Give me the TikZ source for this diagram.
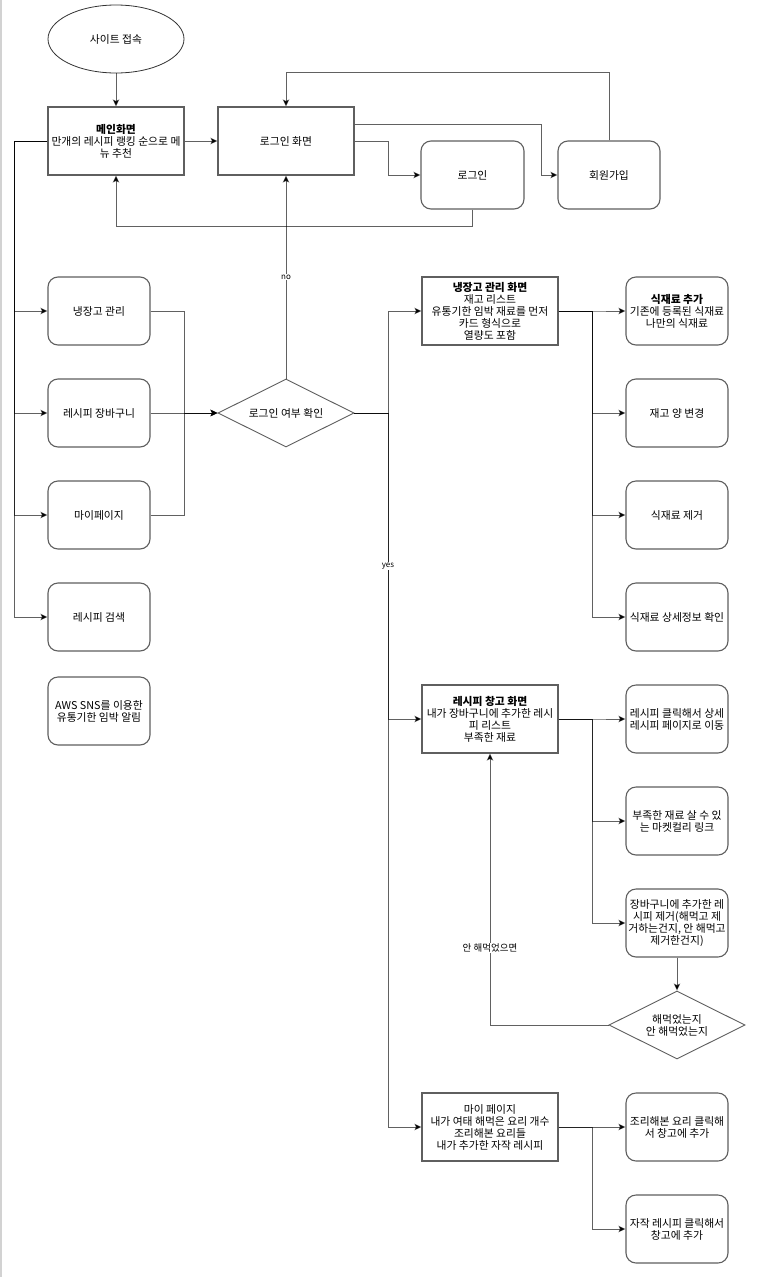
\documentclass[tikz,border=0pt]{standalone}
\usepackage{fontspec}
\setmainfont{Noto Sans CJK KR}
\usetikzlibrary{shapes.geometric,arrows.meta}
\definecolor{bordc}{RGB}{95,95,95}
\begin{document}
\begin{tikzpicture}[x=1pt,y=-1pt,
  box/.style={draw=bordc, line width=1.1pt, minimum width=136pt, minimum height=68pt, align=center, inner xsep=0pt, inner ysep=1pt, font=\fontsize{10.8}{12}\selectfont},
  rbox/.style={box, rounded corners=10pt, minimum width=102pt},
  dec/.style={diamond, shape aspect=2, draw=bordc, line width=0.9pt, minimum width=136pt, minimum height=68pt, inner sep=0pt, align=center, font=\fontsize{10.8}{12}\selectfont},
  edge/.style={draw=black, draw opacity=0.62, line width=1pt, -{Stealth[length=7pt,width=6.5pt,inset=1.5pt]}},
  lbl/.style={fill=white, inner sep=1pt, font=\fontsize{8}{9}\selectfont},
  klbl/.style={fill=white, inner sep=1pt, font=\fontsize{9.5}{11}\selectfont}]
\useasboundingbox (0,0) rectangle (759,1277);
\fill[white] (0,0) rectangle (759,1277);
\draw[gray!35, line width=1.5pt] (0.75,0) -- (0.75,1277);

% top row
\node[ellipse, draw=black!80, line width=0.8pt, minimum width=136pt, minimum height=68pt, inner sep=0pt, font=\fontsize{10.8}{12}\selectfont] (site) at (116,39) {사이트 접속};
\node[box] (main) at (116,141) {\textbf{메인화면}\\만개의 레시피 랭킹 순으로 메\\뉴 추천};
\node[box] (ls) at (286,141) {로그인 화면};
\node[rbox, minimum width=103pt] (login) at (472.5,175) {로그인};
\node[rbox] (signup) at (609,175) {회원가입};

% left column
\node[rbox] (fridge) at (99,311) {냉장고 관리};
\node[rbox] (cart) at (99,413) {레시피 장바구니};
\node[rbox] (mypage) at (99,515) {마이페이지};
\node[rbox] (search) at (99,617) {레시피 검색};
\node[rbox] (aws) at (99,711) {AWS SNS를 이용한\\유통기한 임박 알림};

% decision
\node[dec] (dia) at (286,413) {로그인 여부 확인};

% right main column
\node[box] (fs) at (490,311) {\textbf{냉장고 관리 화면}\\재고 리스트\\유통기한 임박 재료를 먼저\\카드 형식으로\\열량도 포함};
\node[box] (rs) at (490,719) {\textbf{레시피 창고 화면}\\내가 장바구니에 추가한 레시\\피 리스트\\부족한 재료};
\node[box] (ms) at (490,1127) {마이 페이지\\내가 여태 해먹은 요리 개수\\조리해본 요리들\\내가 추가한 자작 레시피};

% fridge children
\node[rbox] (f1) at (677,311) {\textbf{식재료 추가}\\기존에 등록된 식재료\\나만의 식재료};
\node[rbox] (f2) at (677,413) {재고 양 변경};
\node[rbox] (f3) at (677,515) {식재료 제거};
\node[rbox] (f4) at (677,617) {식재료 상세정보 확인};

% recipe children
\node[rbox] (r1) at (677,719) {레시피 클릭해서 상세\\레시피 페이지로 이동};
\node[rbox] (r2) at (677,821) {부족한 재료 살 수 있\\는 마켓컬리 링크};
\node[rbox] (r3) at (677,923) {장바구니에 추가한 레\\시피 제거(해먹고 제\\거하는건지, 안 해먹고\\제거한건지)};
\node[dec] (dia2) at (677,1025) {해먹었는지\\안 해먹었는지};

% mypage children
\node[rbox] (m1) at (677,1127) {조리해본 요리 클릭해\\서 창고에 추가};
\node[rbox] (m2) at (677,1229) {자작 레시피 클릭해서\\창고에 추가};

\coordinate (lt) at (14,141);
\coordinate (rt) at (388,413);

% top edges
\draw[edge] (site) -- (main);
\draw[edge] (main) -- (ls);
\draw[edge] (ls.east) -- ++(34,0) |- (login.west);
\draw[edge] ([yshift=17pt]ls.east) -- ++(187,0) |- (signup.west);
\draw[edge] (signup.north) -- ++(0,-68) -| (ls.north);
\draw[edge] (login.south) -- ++(0,17) -| (main.south);

% left trunk
\draw[edge] (main.west) -- (lt) |- (fridge.west);
\draw[edge] (main.west) -- (lt) |- (cart.west);
\draw[edge] (main.west) -- (lt) |- (mypage.west);
\draw[edge] (main.west) -- (lt) |- (search.west);

% to decision
\draw[edge] (fridge.east) -- ++(34,0) |- (dia.west);
\draw[edge] (cart.east) -- (dia.west);
\draw[edge] (mypage.east) -- ++(34,0) |- (dia.west);

% no
\draw[edge] (dia.north) -- node[lbl, pos=0.5] (nolbl) {no} (ls.south);

% yes
\draw[edge] (dia.east) -- (rt) |- (fs.west);
\draw[edge] (dia.east) -- (rt) |- (rs.west);
\draw[edge] (dia.east) -- (rt) |- (ms.west);
\node[lbl] (yeslbl) at (388,566) {yes};

% fridge screen children
\draw[edge] (fs.east) -- ++(34,0) |- (f1.west);
\draw[edge] (fs.east) -- ++(34,0) |- (f2.west);
\draw[edge] (fs.east) -- ++(34,0) |- (f3.west);
\draw[edge] (fs.east) -- ++(34,0) |- (f4.west);

% recipe screen children
\draw[edge] (rs.east) -- ++(34,0) |- (r1.west);
\draw[edge] (rs.east) -- ++(34,0) |- (r2.west);
\draw[edge] (rs.east) -- ++(34,0) |- (r3.west);
\draw[edge] (r3.south) -- (dia2.north);
\draw[edge] (dia2.west) -| (rs.south);
\node[klbl] (notate) at (490,948) {안 해먹었으면};

% mypage screen children
\draw[edge] (ms.east) -- ++(34,0) |- (m1.west);
\draw[edge] (ms.east) -- ++(34,0) |- (m2.west);
\end{tikzpicture}
\end{document}
